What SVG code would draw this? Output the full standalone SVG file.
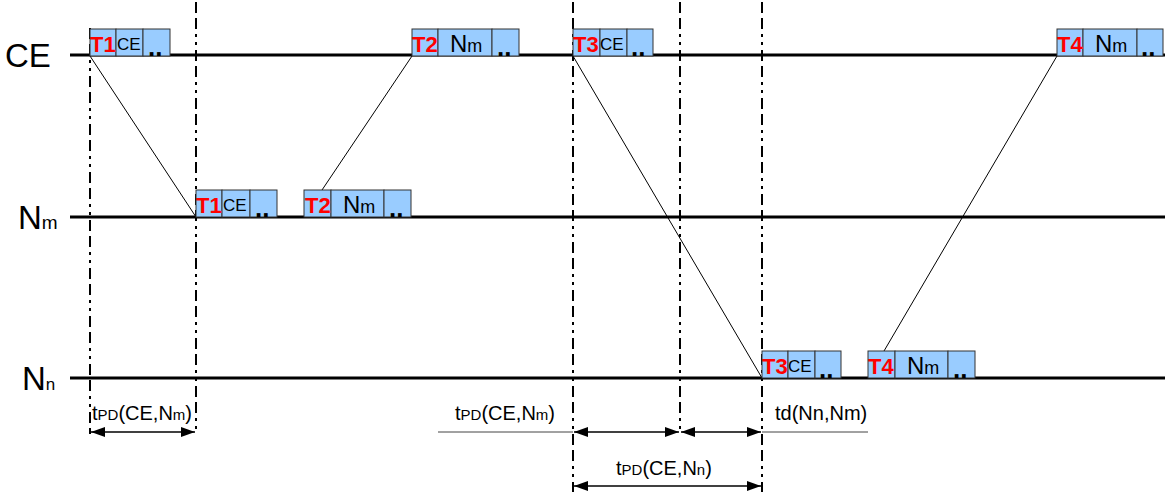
<svg xmlns="http://www.w3.org/2000/svg" width="1171" height="496" viewBox="0 0 1171 496">
  <style>
    .axis { stroke: #000; stroke-width: 3; }
    .guide { stroke: #000; stroke-width: 2; stroke-dasharray: 11,5,11,5,3,5,3,5; fill: none; }
    .msg { stroke: #000; stroke-width: 1; fill: none; }
    .cell { fill: #99CCFF; stroke: #333; stroke-width: 1; }
    .tag { font-family: "Liberation Sans", Arial, sans-serif; font-weight: bold; font-size: 22px; fill: #FF0000; }
    .ce { font-family: "Liberation Sans", Arial, sans-serif; font-size: 17px; fill: #000; }
    .nm { font-family: "Liberation Sans", Arial, sans-serif; font-size: 24px; fill: #000; }
    .dots { font-family: "Liberation Sans", Arial, sans-serif; font-weight: bold; font-size: 26px; fill: #000; }
    .lane { font-family: "Liberation Sans", Arial, sans-serif; font-size: 33px; fill: #000; }
    .lbl { font-family: "Liberation Sans", Arial, sans-serif; font-size: 20px; fill: #000; }
    .dim { stroke: #000; stroke-width: 1.3; fill: none; }
    .ext { stroke: #444; stroke-width: 1; fill: none; }
  </style>
  <defs>
    <marker id="ah" viewBox="0 0 14 10" refX="14" refY="5" markerWidth="14" markerHeight="10" markerUnits="userSpaceOnUse" orient="auto-start-reverse">
      <path d="M0,0 L14,5 L0,10 Z" fill="#000"/>
    </marker>
  </defs>

  <!-- lane labels and time axes -->
  <g id="lanes">
    <text class="lane" x="5" y="67">CE</text>
    <text class="lane" x="18" y="229">N<tspan font-size="19">m</tspan></text>
    <text class="lane" x="22" y="390">N<tspan font-size="17">n</tspan></text>
    <line class="axis" x1="70" y1="55" x2="1165" y2="55"/>
    <line class="axis" x1="70" y1="217" x2="1165" y2="217"/>
    <line class="axis" x1="70" y1="378" x2="1165" y2="378"/>
  </g>

  <!-- timing guides -->
  <g id="guides">
    <line class="guide" x1="90" y1="28" x2="90" y2="434"/>
    <line class="guide" x1="196" y1="2" x2="196" y2="434"/>
    <line class="guide" x1="573" y1="2" x2="573" y2="492"/>
    <line class="guide" x1="680" y1="2" x2="680" y2="434"/>
    <line class="guide" x1="762" y1="2" x2="762" y2="492"/>
  </g>

  <!-- message connectors -->
  <g id="connectors">
    <line class="msg" x1="90" y1="56" x2="196" y2="217"/>
    <line class="msg" x1="412" y1="56" x2="322" y2="190"/>
    <line class="msg" x1="573" y1="56" x2="762" y2="378"/>
    <line class="msg" x1="1057" y1="56" x2="884" y2="351"/>
  </g>

  <!-- frames -->
  <g id="t1-ce">
    <rect class="cell" x="90" y="29" width="26" height="27"/>
    <rect class="cell" x="116" y="29" width="27" height="27"/>
    <rect class="cell" x="143" y="29" width="27" height="27"/>
    <text class="tag" x="90" y="52">T1</text>
    <text class="ce" x="117" y="50">CE</text>
    <text class="dots" x="148" y="56">..</text>
  </g>
  <g id="t1-nm">
    <rect class="cell" x="196" y="190" width="26" height="27"/>
    <rect class="cell" x="222" y="190" width="28" height="27"/>
    <rect class="cell" x="250" y="190" width="27" height="27"/>
    <text class="tag" x="196" y="213">T1</text>
    <text class="ce" x="223" y="211">CE</text>
    <text class="dots" x="255" y="217">..</text>
  </g>
  <g id="t2-ce">
    <rect class="cell" x="412" y="29" width="26" height="27"/>
    <rect class="cell" x="438" y="29" width="54" height="27"/>
    <rect class="cell" x="492" y="29" width="27" height="27"/>
    <text class="tag" x="412" y="52">T2</text>
    <text class="nm" x="450" y="52">N<tspan font-size="18">m</tspan></text>
    <text class="dots" x="497" y="56">..</text>
  </g>
  <g id="t2-nm">
    <rect class="cell" x="304" y="190" width="27" height="27"/>
    <rect class="cell" x="331" y="190" width="53" height="27"/>
    <rect class="cell" x="384" y="190" width="27" height="27"/>
    <text class="tag" x="305" y="213">T2</text>
    <text class="nm" x="343" y="213">N<tspan font-size="18">m</tspan></text>
    <text class="dots" x="389" y="217">..</text>
  </g>
  <g id="t3-ce">
    <rect class="cell" x="573" y="29" width="27" height="27"/>
    <rect class="cell" x="600" y="29" width="27" height="27"/>
    <rect class="cell" x="627" y="29" width="26" height="27"/>
    <text class="tag" x="573" y="52">T3</text>
    <text class="ce" x="600" y="50">CE</text>
    <text class="dots" x="631" y="56">..</text>
  </g>
  <g id="t3-nn">
    <rect class="cell" x="762" y="351" width="26" height="27"/>
    <rect class="cell" x="788" y="351" width="27" height="27"/>
    <rect class="cell" x="815" y="351" width="26" height="27"/>
    <text class="tag" x="762" y="374">T3</text>
    <text class="ce" x="788" y="372">CE</text>
    <text class="dots" x="819" y="378">..</text>
  </g>
  <g id="t4-ce">
    <rect class="cell" x="1057" y="29" width="26" height="27"/>
    <rect class="cell" x="1083" y="29" width="54" height="27"/>
    <rect class="cell" x="1137" y="29" width="26" height="27"/>
    <text class="tag" x="1057" y="52">T4</text>
    <text class="nm" x="1095" y="52">N<tspan font-size="18">m</tspan></text>
    <text class="dots" x="1141" y="56">..</text>
  </g>
  <g id="t4-nn">
    <rect class="cell" x="868" y="351" width="27" height="27"/>
    <rect class="cell" x="895" y="351" width="53" height="27"/>
    <rect class="cell" x="948" y="351" width="27" height="27"/>
    <text class="tag" x="868" y="374">T4</text>
    <text class="nm" x="907" y="374">N<tspan font-size="18">m</tspan></text>
    <text class="dots" x="953" y="378">..</text>
  </g>

  <!-- dimension annotations -->
  <g id="dimensions">
    <line class="dim" x1="91" y1="432" x2="195" y2="432" marker-start="url(#ah)" marker-end="url(#ah)"/>
    <text class="lbl" x="92" y="420">t<tspan font-size="15">PD</tspan>(CE,N<tspan font-size="15">m</tspan>)</text>

    <line class="ext" x1="438" y1="432" x2="573" y2="432"/>
    <line class="dim" x1="574" y1="432" x2="679" y2="432" marker-start="url(#ah)" marker-end="url(#ah)"/>
    <line class="dim" x1="681" y1="432" x2="761" y2="432" marker-start="url(#ah)" marker-end="url(#ah)"/>
    <line class="ext" x1="762" y1="432" x2="868" y2="432"/>
    <text class="lbl" x="455" y="420">t<tspan font-size="15">PD</tspan>(CE,N<tspan font-size="15">m</tspan>)</text>
    <text class="lbl" x="775" y="420">td(Nn,Nm)</text>

    <line class="dim" x1="574" y1="486" x2="761" y2="486" marker-start="url(#ah)" marker-end="url(#ah)"/>
    <text class="lbl" x="616" y="475">t<tspan font-size="15">PD</tspan>(CE,N<tspan font-size="15">n</tspan>)</text>
  </g>
</svg>
